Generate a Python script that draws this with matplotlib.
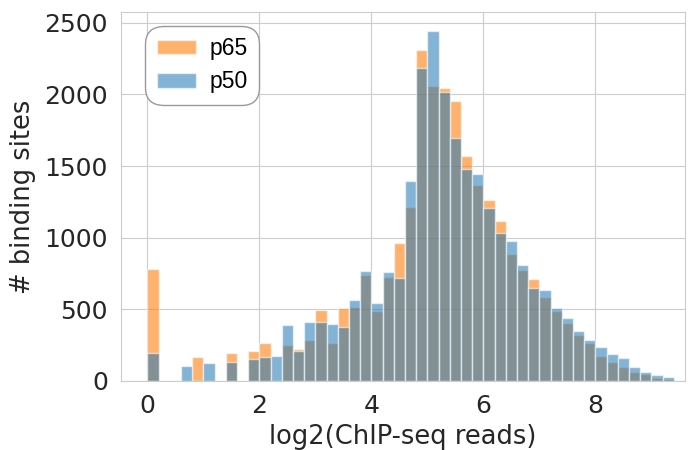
import numpy as np
import matplotlib
matplotlib.use("Agg")
import matplotlib.pyplot as plt
import seaborn as sns

# histogram bins: width 0.2 on log2 scale, from 0 to 9.4
bin_edges = np.round(np.arange(0, 9.41, 0.2), 2)

# counts per bin
p65_counts = [782, 0, 0, 0, 170, 0, 0, 198, 0, 212,
              262, 0, 251, 223, 286, 498, 263, 510, 519, 740,
              491, 728, 963, 1215, 2310, 2061, 2043, 1954, 1570, 1368,
              1263, 1115, 886, 775, 710, 586, 491, 407, 321, 263,
              174, 135, 96, 65, 51, 23, 12]
p50_counts = [195, 0, 0, 105, 0, 124, 0, 133, 0, 157,
              170, 175, 391, 210, 410, 414, 396, 379, 563, 766,
              542, 763, 721, 1394, 2183, 2445, 2015, 1694, 1477, 1445,
              1210, 1031, 979, 810, 649, 633, 507, 438, 349, 284,
              239, 186, 158, 98, 61, 42, 26]

sns.set_style("whitegrid")
plt.rcParams["font.family"] = ["DejaVu Sans"]

fig = plt.figure(figsize=(6.93, 4.5), dpi=100)
ax = fig.add_axes([121 / 693, (450 - 381) / 450, 564 / 693, 369 / 450])

left = bin_edges[:-1]
width = np.diff(bin_edges)
ax.bar(left, p65_counts, width=width, align="edge", color="tab:orange",
       alpha=0.6, edgecolor="white", linewidth=1, label="p65")
ax.bar(left, p50_counts, width=width, align="edge", color="tab:blue",
       alpha=0.55, edgecolor="white", linewidth=1, label="p50")

ax.set_xlim(-0.47, 9.6)
ax.set_ylim(0, 2575)
ax.set_xticks([0, 2, 4, 6, 8])
ax.set_yticks([0, 500, 1000, 1500, 2000, 2500])
ax.tick_params(labelsize=18, colors="#262626", pad=6)
ax.set_xlabel("log2(ChIP-seq reads)", fontsize=18.5, color="#262626", labelpad=4)
ax.set_ylabel("# binding sites", fontsize=18.5, color="#262626", labelpad=6)

leg = ax.legend(loc="upper left", bbox_to_anchor=(0.043, 0.963), borderaxespad=0,
                prop={"family": ["Liberation Sans"], "size": 16.5},
                handlelength=1.7, handleheight=0.6, handletextpad=0.6,
                frameon=True, fancybox=True, borderpad=0.5, labelspacing=0.45)
for t in leg.get_texts():
    t.set_color("black")
leg.get_frame().set_edgecolor("#999999")
leg.get_frame().set_alpha(1)
leg.get_frame().set_boxstyle("round", pad=0, rounding_size=0.8)

fig.savefig("out.png", dpi=100)
